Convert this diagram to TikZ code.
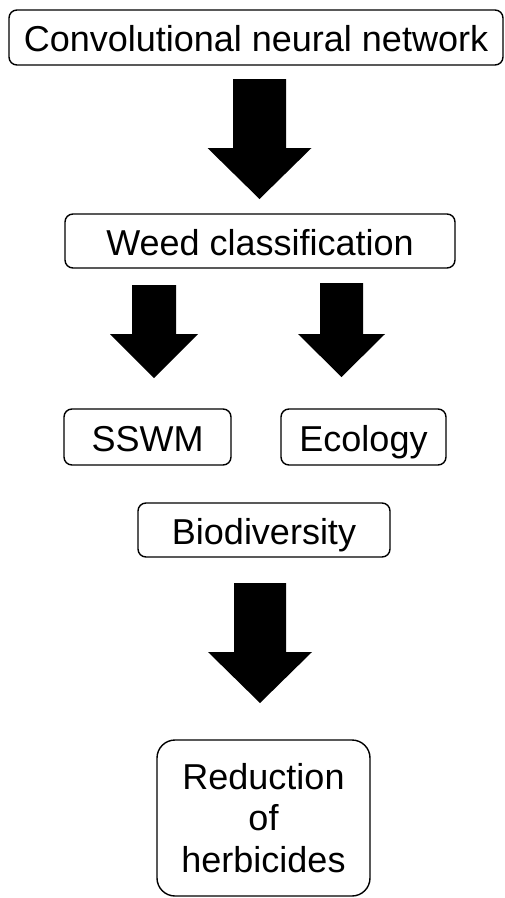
\documentclass[tikz,border=0pt]{standalone}
\usepackage{fontspec}
\setmainfont{Liberation Sans}
\usetikzlibrary{calc}
\tikzset{
  box/.style={draw=black, line width=1.4pt, rounded corners=8pt, inner sep=0pt,
    font=\fontsize{36}{41.5}\selectfont, align=center},
  onebox/.style={box, text height=28.8pt, text depth=0pt},
  bigbox/.style={box, rounded corners=18pt},
  blockarrow/.style={fill=black, draw=none}
}
% #1 = top centre coordinate name, #2 half shaft, #3 shaft length, #4 half head, #5 head length
\newcommand{\blockarr}[5]{%
  \fill[blockarrow] ($(#1)+(-#2,0)$) -- ++(0,#3) -- ++(-#4+#2,0) -- ++(#4,#5)
    -- ++(#4,-#5) -- ++(-#4+#2,0) -- ++(0,-#3) -- cycle;}
\begin{document}
\begin{tikzpicture}[x=1pt,y=-1pt]
\useasboundingbox (0,0) rectangle (505,898);
\fill[white] (0,0) rectangle (505,898);

\node[onebox, minimum width=494pt, minimum height=55pt] (cnn) at (256,37.5) {Convolutional neural network};
\node[onebox, minimum width=390pt, minimum height=54pt] (weed) at (260,241) {Weed classification};
\node[onebox, minimum width=167pt, minimum height=56pt] (sswm) at (147.5,437) {SSWM};
\node[onebox, minimum width=165pt, minimum height=56pt] (eco) at (363.5,437) {Ecology};
\node[onebox, minimum width=252pt, minimum height=54pt] (bio) at (264,530) {Biodiversity};
\node[bigbox, minimum width=213pt, minimum height=156pt] (red) at (263.5,818) {Reduction\\of\\herbicides};

\coordinate (a1) at (259.5,79);
\coordinate (a2) at (154,285);
\coordinate (a3) at (341.5,283);
\coordinate (a4) at (260,583);

\blockarr{a1}{26.5}{69}{52}{51}
\blockarr{a2}{22}{49}{44}{44}
\blockarr{a3}{21.5}{51}{43.5}{43}
\blockarr{a4}{26}{69}{52}{51}
\end{tikzpicture}
\end{document}
